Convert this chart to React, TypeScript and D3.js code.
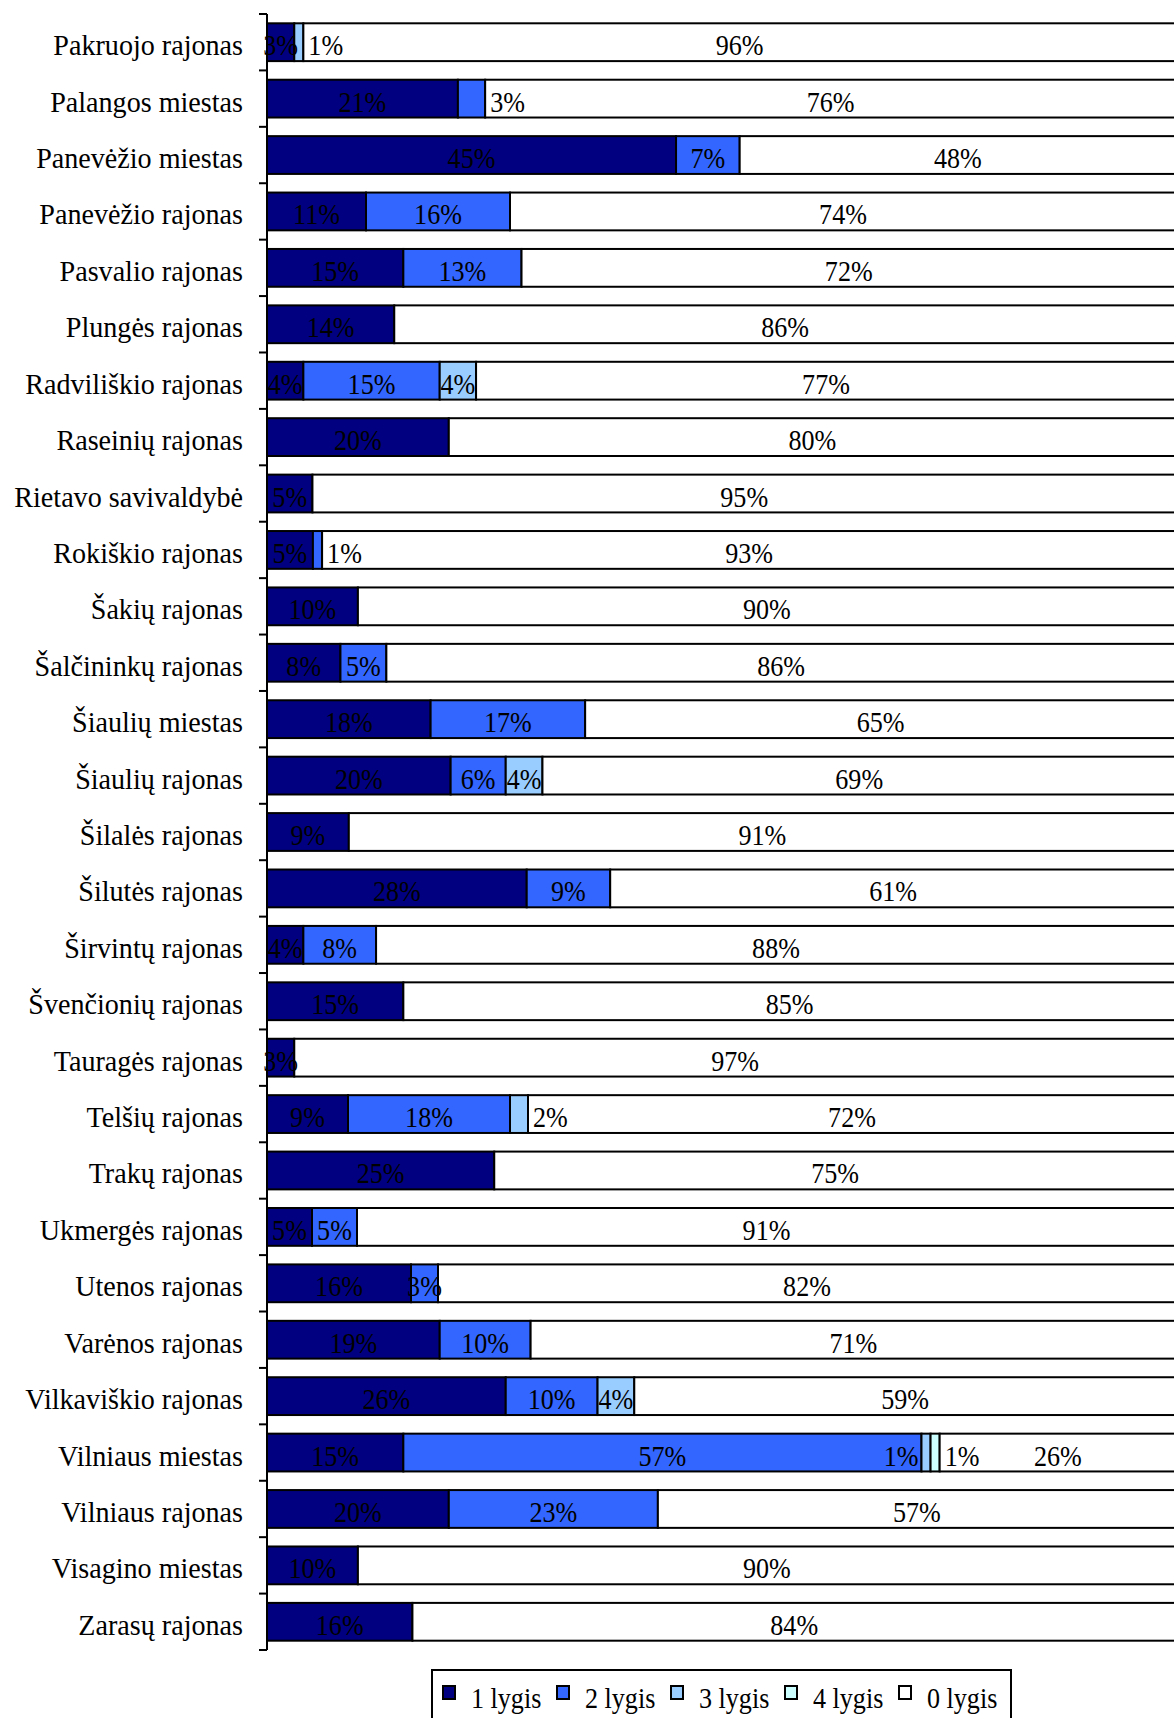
import React from 'react';
import * as d3 from 'd3';

const categories = [
  'Pakruojo rajonas', 'Palangos miestas', 'Panevėžio miestas', 'Panevėžio rajonas',
  'Pasvalio rajonas', 'Plungės rajonas', 'Radviliškio rajonas', 'Raseinių rajonas',
  'Rietavo savivaldybė', 'Rokiškio rajonas', 'Šakių rajonas', 'Šalčininkų rajonas',
  'Šiaulių miestas', 'Šiaulių rajonas', 'Šilalės rajonas', 'Šilutės rajonas',
  'Širvintų rajonas', 'Švenčionių rajonas', 'Tauragės rajonas', 'Telšių rajonas',
  'Trakų rajonas', 'Ukmergės rajonas', 'Utenos rajonas', 'Varėnos rajonas',
  'Vilkaviškio rajonas', 'Vilniaus miestas', 'Vilniaus rajonas', 'Visagino miestas',
  'Zarasų rajonas',
];

const level1 = [3, 21, 45, 11, 15, 14, 4, 20, 5, 5, 10, 8, 18, 20, 9, 28, 4, 15, 3, 9, 25, 5, 16, 19, 26, 15, 20, 10, 16];
const level2 = [0, 3, 7, 16, 13, 0, 15, 0, 0, 1, 0, 5, 17, 6, 0, 9, 8, 0, 0, 18, 0, 5, 3, 10, 10, 57, 23, 0, 0];
const level3 = [1, 0, 0, 0, 0, 0, 4, 0, 0, 0, 0, 0, 0, 4, 0, 0, 0, 0, 0, 2, 0, 0, 0, 0, 4, 1, 0, 0, 0];
const level4 = [0, 0, 0, 0, 0, 0, 0, 0, 0, 0, 0, 0, 0, 0, 0, 0, 0, 0, 0, 0, 0, 0, 0, 0, 0, 1, 0, 0, 0];
const level0 = [96, 76, 48, 74, 72, 86, 77, 80, 95, 93, 90, 86, 65, 69, 91, 61, 88, 85, 97, 72, 75, 91, 82, 71, 59, 26, 57, 90, 84];

const seriesKeys = ['l1', 'l2', 'l3', 'l4', 'l0'];
const seriesNames = ['1 lygis', '2 lygis', '3 lygis', '4 lygis', '0 lygis'];
const seriesColors = ['#000080', '#3366FF', '#99CCFF', '#CCFFFF', '#FFFFFF'];

// labels of thin segments that sit beside their segment instead of inside
const outsideLabels: [number, number, 'left' | 'right'][] = [
  [0, 2, 'right'],
  [1, 1, 'right'],
  [9, 1, 'right'],
  [19, 2, 'right'],
  [25, 2, 'left'],
  [25, 3, 'right'],
];

const W = 1174;
const H = 1718;
const FONT = "'Liberation Serif', 'Times New Roman', serif";

export default function App() {
  const table = categories.map((c, i) => ({
    name: c,
    l1: level1[i], l2: level2[i], l3: level3[i], l4: level4[i], l0: level0[i],
  }));
  const stacked = d3.stack<any>().keys(seriesKeys).offset(d3.stackOffsetExpand)(table);

  const x = d3.scaleLinear().domain([0, 1]).range([267, 1176]);
  const y = d3.scaleBand().domain(categories).range([14, 1650]).paddingInner(0.33).paddingOuter(0.165);
  const step = y.step();
  const axisTop = 14;

  const sideOf = (r: number, s: number) => {
    const f = outsideLabels.find((o) => o[0] === r && o[1] === s);
    return f ? f[2] : 'center';
  };

  const legendX = d3.scaleLinear().domain([0, 1]).range([443, 557]);

  return (
    <div style={{ position: 'absolute', left: 0, top: 0 }}>
      <svg width={W} height={H} style={{ display: 'block', background: '#fff' }} fontFamily={FONT}>
        <rect x={0} y={0} width={W} height={H} fill="#fff" />
        {stacked.map((layer, si) => (
          <g key={layer.key}>
            {layer.map((d, ri) => {
              const v = (table[ri] as any)[layer.key];
              if (!v) return null;
              const x0 = x(d[0]);
              const x1 = x(d[1]);
              return (
                <rect key={ri} x={x0} y={y(categories[ri])!} width={x1 - x0} height={y.bandwidth()}
                  fill={seriesColors[si]} stroke="#000" strokeWidth={2} />
              );
            })}
          </g>
        ))}
        {stacked.map((layer, si) => (
          <g key={'t' + layer.key}>
            {layer.map((d, ri) => {
              const v = (table[ri] as any)[layer.key];
              if (!v) return null;
              const x0 = x(d[0]);
              const x1 = x(d[1]);
              const side = sideOf(ri, si);
              const cy = y(categories[ri])! + y.bandwidth() / 2 + 13;
              let tx = (x0 + x1) / 2;
              let anchor = 'middle';
              if (side === 'right') { tx = x1 + 5; anchor = 'start'; }
              if (side === 'left') { tx = x0 - 3; anchor = 'end'; }
              return (
                <text key={ri} transform={`translate(${tx},${cy}) scale(0.9,1)`} textAnchor={anchor}
                  fontSize={29} fill="#000">{v}%</text>
              );
            })}
          </g>
        ))}
        {/* category axis */}
        <line x1={267} x2={267} y1={axisTop} y2={axisTop + step * categories.length} stroke="#000" strokeWidth={2} />
        {d3.range(categories.length + 1).map((i) => (
          <line key={i} x1={259} x2={267} y1={axisTop + i * step} y2={axisTop + i * step} stroke="#000" strokeWidth={2} />
        ))}
        {categories.map((c) => (
          <text key={c} transform={`translate(243,${y(c)! + y.bandwidth() / 2 + 13}) scale(0.97,1)`}
            textAnchor="end" fontSize={29} fill="#000">{c}</text>
        ))}
        {/* legend */}
        <rect x={432} y={1670} width={579} height={80} fill="#fff" stroke="#000" strokeWidth={2} />
        {seriesNames.map((n, i) => (
          <g key={n}>
            <rect x={legendX(i)} y={1686} width={12} height={13} fill={seriesColors[i]} stroke="#000" strokeWidth={2} />
            <text transform={`translate(${legendX(i) + 28},1708) scale(0.9,1)`} fontSize={29} fill="#000">{n}</text>
          </g>
        ))}
      </svg>
    </div>
  );
}
